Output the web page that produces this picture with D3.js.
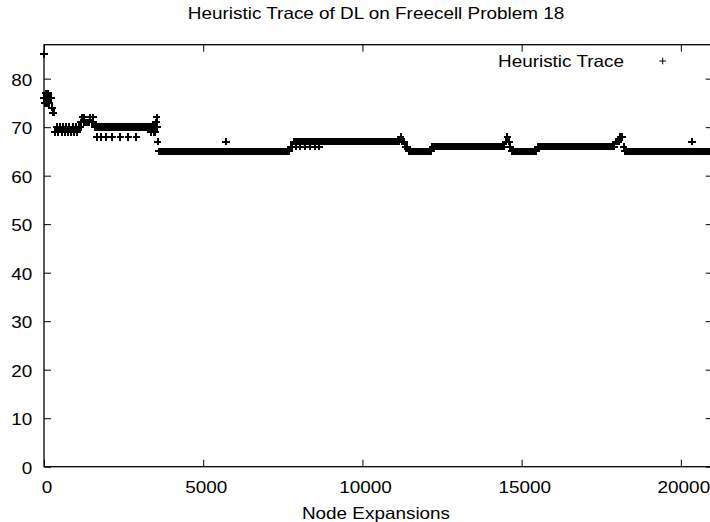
<!DOCTYPE html>
<html><head><meta charset="utf-8">
<script src="https://cdn.jsdelivr.net/npm/d3@7"></script>
<style>body{margin:0;background:#fff;overflow:hidden}</style>
</head><body><svg id="c" width="710" height="522"></svg>
<script>
const chartTitle = "Heuristic Trace of DL on Freecell Problem 18";
const xTitle = "Node Expansions";
const seriesName = "Heuristic Trace";
const xTicks = [0, 5000, 10000, 15000, 20000];
const yTicks = [0, 10, 20, 30, 40, 50, 60, 70, 80];
const xDomain = [0, 21000];
const yDomain = [0, 87];
// heuristic value read every 50 node expansions
const sampleEvery = 50;
const hSamples = [
  76,77,75,76,76,74,73,69,70,69, 70,69,70,69,70,69,70,69,70,69,
  70,69,70,71,72,71,71,71,71,72, 71,71,70,70,70,70,70,70,70,70,
  70,70,70,70,70,70,70,70,70,70, 70,70,70,70,70,70,70,70,70,70,
  70,70,70,70,70,70,70,70,70,70, 70,70,65,65,65,65,65,65,65,65,
  65,65,65,65,65,65,65,65,65,65, 65,65,65,65,65,65,65,65,65,65,
  65,65,65,65,65,65,65,65,65,65, 65,65,65,65,65,65,65,65,65,65,
  65,65,65,65,65,65,65,65,65,65, 65,65,65,65,65,65,65,65,65,65,
  65,65,65,65,65,65,65,65,65,65, 65,65,65,65,65,66,66,67,67,67,
  67,67,67,67,67,67,67,67,67,67, 67,67,67,67,67,67,67,67,67,67,
  67,67,67,67,67,67,67,67,67,67, 67,67,67,67,67,67,67,67,67,67,
  67,67,67,67,67,67,67,67,67,67, 67,67,67,67,67,67,67,67,67,67,
  67,67,67,67,68,67,67,66,66,65, 65,65,65,65,65,65,65,65,65,65,
  65,65,65,65,66,66,66,66,66,66, 66,66,66,66,66,66,66,66,66,66,
  66,66,66,66,66,66,66,66,66,66, 66,66,66,66,66,66,66,66,66,66,
  66,66,66,66,66,66,66,66,66,66, 67,68,67,66,65,65,65,65,65,65,
  65,65,65,65,65,65,65,65,65,65, 66,66,66,66,66,66,66,66,66,66,
  66,66,66,66,66,66,66,66,66,66, 66,66,66,66,66,66,66,66,66,66,
  66,66,66,66,66,66,66,66,66,66, 66,66,66,66,66,66,66,66,66,67,
  67,67,68,68,66,65,65,65,65,65, 65,65,65,65,65,65,65,65,65,65,
  65,65,65,65,65,65,65,65,65,65, 65,65,65,65,65,65,65,65,65,65,
  65,65,65,65,65,65,65,65,65,65, 65,65,65,65,65,65,65,65,65,65
];
// scattered off-band expansions: [node, h]
const hExtra = [
  [0,85],[20,75],[70,76],[120,77],[170,75],[220,76],[260,74],[280,73],
  [1150,70],[1250,72],[1550,72],
  [1650,68],[1800,68],[1950,68],[2150,68],[2400,68],[2650,68],[2900,68],
  [3350,69],[3450,69],[3500,69],[3520,71],[3540,72],[3570,67],
  [5720,67],
  [7900,66],[8050,66],[8200,66],[8350,66],[8500,66],[8650,66],
  [20350,67]
];

const FONT = '"Liberation Sans", Arial, Helvetica, sans-serif';
const FS = 16.3, SX = 1.16;
const m = {left: 44, top: 44.7, right: 712.7, bottom: 466.7};
const svg = d3.select("#c");
const x = d3.scaleLinear().domain(xDomain).range([m.left, m.right]);
const y = d3.scaleLinear().domain(yDomain).range([m.bottom, m.top]);

function label(txt, tx, ty, anchor) {
  return svg.append("text").text(txt)
    .attr("transform", `translate(${tx},${ty}) scale(${SX},1)`)
    .attr("text-anchor", anchor).attr("font-family", FONT)
    .attr("font-size", FS).attr("fill", "#000");
}

// axes
const gx = svg.append("g").attr("transform", `translate(0,${m.bottom})`)
  .call(d3.axisBottom(x).tickValues(xTicks).tickFormat(d3.format("d"))
    .tickSizeInner(-7).tickSizeOuter(0).tickPadding(15));
const gy = svg.append("g").attr("transform", `translate(${m.left},0)`)
  .call(d3.axisLeft(y).tickValues(yTicks).tickFormat(d3.format("d"))
    .tickSizeInner(-7).tickSizeOuter(0).tickPadding(11.7));
const gt = svg.append("g").attr("transform", `translate(0,${m.top})`)
  .call(d3.axisTop(x).tickValues(xTicks).tickSizeInner(-7).tickSizeOuter(0).tickFormat(""));
const gr = svg.append("g").attr("transform", `translate(${m.right},0)`)
  .call(d3.axisRight(y).tickValues(yTicks).tickSizeInner(-7).tickSizeOuter(0).tickFormat(""));
[gx, gy, gt, gr].forEach(g => {
  g.select(".domain").remove();
  g.attr("font-family", FONT).attr("font-size", FS);
  g.selectAll(".tick line").attr("stroke", "#000").attr("stroke-width", 1);
});
gx.selectAll("text").attr("fill", "#000").attr("x", 2.5 / SX).attr("transform", `scale(${SX},1)`);
gy.selectAll("text").attr("fill", "#000").attr("x", -11.7 / SX).attr("dy", "0.39em").attr("transform", `scale(${SX},1)`);

// frame
svg.append("rect").attr("x", m.left).attr("y", m.top)
  .attr("width", m.right - m.left).attr("height", m.bottom - m.top)
  .attr("fill", "none").attr("stroke", "#000").attr("stroke-width", 1.3);

// points
const pts = hSamples.map((h, i) => [i * sampleEvery, h]).concat(hExtra);
const r = 3.7;
const plus = `M${-r},0H${r}M0,${-r}V${r}`;
svg.append("g").attr("shape-rendering", "crispEdges")
  .selectAll("path").data(pts).join("path")
  .attr("transform", d => `translate(${x(d[0])},${y(d[1])})`)
  .attr("d", plus).attr("fill", "none").attr("stroke", "#000").attr("stroke-width", 2);

// legend
label(seriesName, 624, 67.3, "end");
svg.append("path").attr("transform", "translate(662.7,61)")
  .attr("d", "M-3.3,0H3.3M0,-3.3V3.3").attr("stroke", "#000").attr("stroke-width", 1);

// titles
label(chartTitle, 376, 19, "middle");
label(xTitle, 376, 519, "middle");
</script></body></html>
